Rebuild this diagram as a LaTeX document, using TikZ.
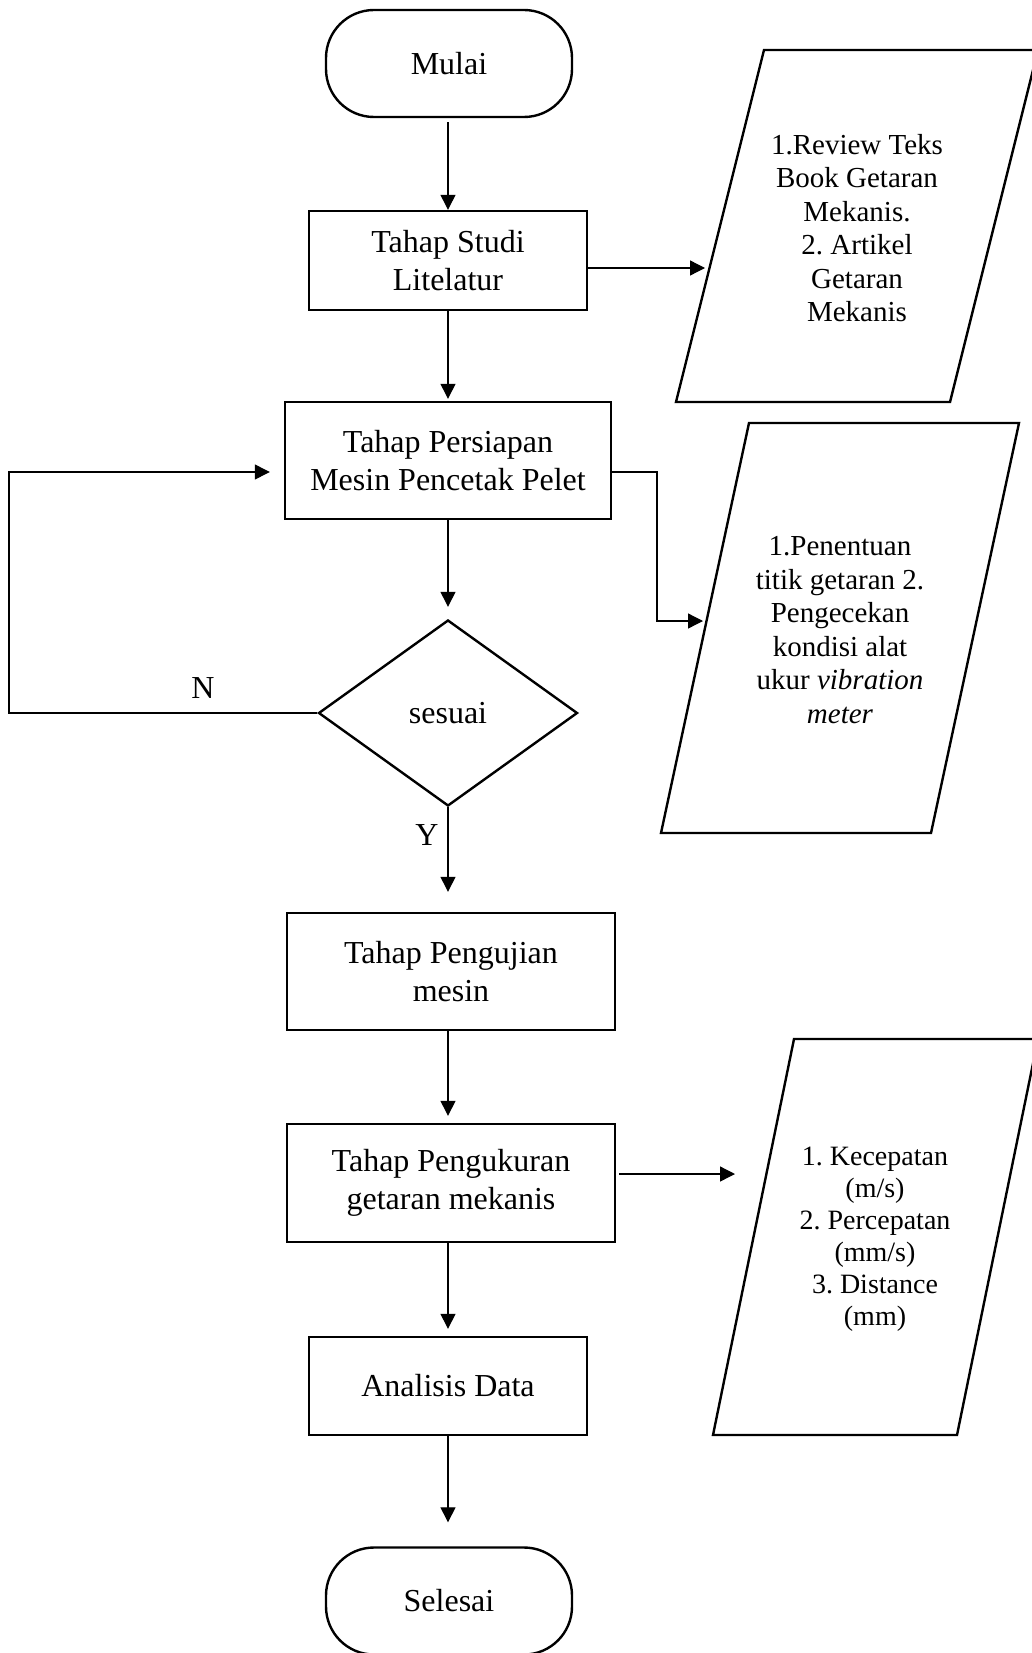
\documentclass[tikz,border=0pt]{standalone}
\usepackage{fontspec}
\setmainfont{Liberation Serif}
\usetikzlibrary{arrows.meta,shapes.geometric,calc}
\frenchspacing
\begin{document}
\begin{tikzpicture}[x=0.5pt,y=-0.5pt,
  shapeline/.style={draw=black,line width=1.2pt},
  box/.style={shapeline,rectangle,align=center,inner sep=0pt,
    font=\fontsize{16pt}{19pt}\selectfont},
  term/.style={box,rounded corners=24pt,minimum width=123pt,minimum height=53.5pt},
  dec/.style={shapeline,diamond,inner sep=0pt,minimum width=129.5pt,minimum height=93pt,
    font=\fontsize{16pt}{19pt}\selectfont},
  ptext/.style={align=center,inner sep=0pt,font=\fontsize{14.5pt}{16.75pt}\selectfont},
  ptextb/.style={align=center,inner sep=0pt,font=\fontsize{14pt}{16pt}\selectfont},
  lab/.style={inner sep=0pt,font=\fontsize{16pt}{19pt}\selectfont},
  arr/.style={line width=0.65pt,-{Triangle[length=7.5pt,width=7.5pt]}},
  link/.style={line width=0.65pt}
  ]
\useasboundingbox (0,0) rectangle (1032,1653);
\fill[white] (0,0) rectangle (1032,1653);
\clip (0,0) rectangle (1032,1653);

% main column
\node[term] (m) at (449,63.5) {Mulai};
\node[box,minimum width=139pt,minimum height=49.5pt] (b1) at (448,260.5) {Tahap Studi\\Litelatur};
\node[box,minimum width=163pt,minimum height=58.5pt] (b2) at (448,460.5) {Tahap Persiapan\\Mesin Pencetak Pelet};
\node[dec] (d) at (448,713) {sesuai};
\node[box,minimum width=164pt,minimum height=58.5pt] (b3) at (451,971.5) {Tahap Pengujian\\mesin};
\node[box,minimum width=164pt,minimum height=59pt] (b4) at (451,1183) {Tahap Pengukuran\\getaran mekanis};
\node[box,minimum width=139pt,minimum height=49pt] (b5) at (448,1386) {Analisis Data};
\node[term] (s) at (449,1601) {Selesai};

% parallelograms
\draw[shapeline] (764,50) -- (1038,50) -- (950,402) -- (676,402) -- cycle;
\node[ptext] (t1) at (857,228) {1.Review Teks\\Book Getaran\\Mekanis.\\2. Artikel\\Getaran\\Mekanis};
\draw[shapeline] (749,423) -- (1019,423) -- (931,833) -- (661,833) -- cycle;
\node[ptext] (t2) at (840,630) {1.Penentuan\\titik getaran 2.\\Pengecekan\\kondisi alat\\ukur \textit{vibration}\\\textit{meter}};
\draw[shapeline] (794,1039) -- (1038,1039) -- (957,1435) -- (713,1435) -- cycle;
\node[ptextb] (t3) at (875,1239) {1. Kecepatan\\(m/s)\\2. Percepatan\\(mm/s)\\3. Distance\\(mm)};

% labels
\node[lab] (nlab) at (203,688) {N};
\node[lab] (ylab) at (427,835) {Y};

% vertical connectors
\draw[arr,shorten <=2pt] (m.south -| b1.north) -- (b1.north);
\draw[arr,shorten >=1pt] (b1.south) -- (b2.north);
\draw[arr,shorten >=6pt] (b2.south) -- (d.north);
\draw[arr,shorten >=10pt] (d.south) -- (d.south |- b3.north);
\draw[arr,shorten >=3.5pt] (d.south |- b3.south) -- (d.south |- b4.north);
\draw[arr,shorten >=3.5pt] (d.south |- b4.south) -- (b5.north);
\draw[arr,shorten >=12pt] (b5.south) -- (b5.south |- s.north);

% side connectors
\coordinate (p1in) at (705,268);
\draw[arr] (b1.east |- p1in) -- (p1in);
\coordinate (k1) at (657,472);
\coordinate (p2in) at (703,621);
\draw[arr] (b2.east |- k1) -- (k1) |- (p2in);
\coordinate (p3in) at (735,1174);
\draw[arr,shorten <=1.5pt] (b4.east |- p3in) -- (p3in);

% loop back (N)
\coordinate (lc) at (9,472);
\draw[arr,shorten >=7pt] (d.west) -| (lc) -- (b2.west |- lc);
\end{tikzpicture}
\end{document}
